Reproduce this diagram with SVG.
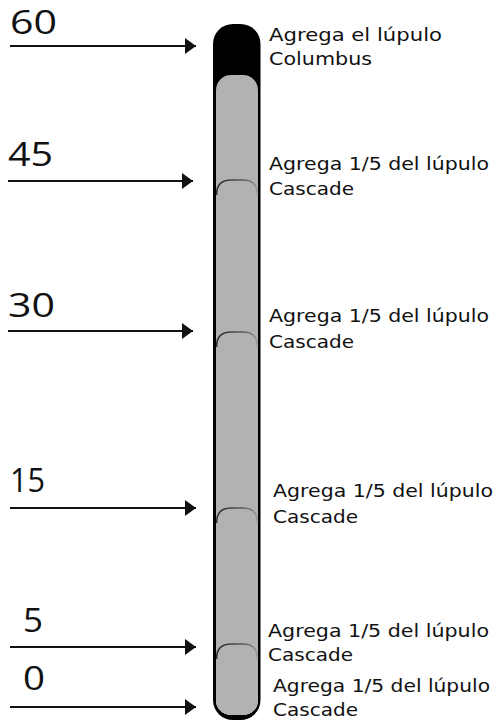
<svg xmlns="http://www.w3.org/2000/svg" width="498" height="722" viewBox="0 0 498 722">
<style>
.num{font-family:"Open Sans","DejaVu Sans",sans-serif;font-size:32px;font-weight:400;fill:#111}
.lbl{font-family:"DejaVu Sans","Liberation Sans",sans-serif;font-size:17px;fill:#111}
.arrow{stroke:#111;stroke-width:2;fill:none}
.seg{fill:#b0b2b4}
.arc{fill:none;stroke:url(#arcg);stroke-width:1.6}
</style>
<defs>
<marker id="ah" markerUnits="userSpaceOnUse" markerWidth="12" markerHeight="16" refX="11" refY="8" orient="auto">
<path d="M0,0 L11,8 L0,16 z" fill="#111"/>
</marker>
<linearGradient id="arcg" x1="0" y1="0" x2="1" y2="0">
<stop offset="0" stop-color="#2a2a2a"/>
<stop offset="0.6" stop-color="#555"/>
<stop offset="1" stop-color="#9a9a9a"/>
</linearGradient>
</defs>
<g id="connectors">
<line class="arrow" x1="10" y1="46" x2="196" y2="46" marker-end="url(#ah)"/>
<line class="arrow" x1="8" y1="181" x2="193" y2="181" marker-end="url(#ah)"/>
<line class="arrow" x1="8" y1="331" x2="193" y2="331" marker-end="url(#ah)"/>
<line class="arrow" x1="10" y1="508" x2="196" y2="508" marker-end="url(#ah)"/>
<line class="arrow" x1="10" y1="647" x2="196" y2="647" marker-end="url(#ah)"/>
<line class="arrow" x1="10" y1="707" x2="196" y2="707" marker-end="url(#ah)"/>
</g>
<g id="bar">
<rect x="213" y="24" width="47.5" height="696" rx="20" fill="#000"/>
<rect class="seg" x="216" y="75" width="42" height="640" rx="15"/>
<g id="seg45"><rect class="seg" x="216" y="180" width="42" height="535" rx="15"/><path class="arc" d="M216.5,195 Q216.5,180 231,180 L243,180 Q257.5,180 257.5,195"/></g>
<g id="seg30"><rect class="seg" x="216" y="332" width="42" height="383" rx="15"/><path class="arc" d="M216.5,347 Q216.5,332 231,332 L243,332 Q257.5,332 257.5,347"/></g>
<g id="seg15"><rect class="seg" x="216" y="508" width="42" height="207" rx="15"/><path class="arc" d="M216.5,523 Q216.5,508 231,508 L243,508 Q257.5,508 257.5,523"/></g>
<g id="seg5"><rect class="seg" x="216" y="644" width="42" height="71" rx="15"/><path class="arc" d="M216.5,659 Q216.5,644 231,644 L243,644 Q257.5,644 257.5,659"/></g>
</g>
<g id="n60"><text class="num" x="10" y="34" textLength="47" lengthAdjust="spacingAndGlyphs">60</text>
<text class="lbl" x="269" y="41" textLength="173" lengthAdjust="spacingAndGlyphs">Agrega el lúpulo</text>
<text class="lbl" x="269" y="65" textLength="103" lengthAdjust="spacingAndGlyphs">Columbus</text></g>
<g id="n45"><text class="num" x="8" y="166" textLength="45" lengthAdjust="spacingAndGlyphs">45</text>
<text class="lbl" x="269" y="170" textLength="220" lengthAdjust="spacingAndGlyphs">Agrega 1/5 del lúpulo</text>
<text class="lbl" x="269" y="195" textLength="85" lengthAdjust="spacingAndGlyphs">Cascade</text></g>
<g id="n30"><text class="num" x="8" y="317" textLength="47" lengthAdjust="spacingAndGlyphs">30</text>
<text class="lbl" x="269" y="322" textLength="220" lengthAdjust="spacingAndGlyphs">Agrega 1/5 del lúpulo</text>
<text class="lbl" x="269" y="348" textLength="85" lengthAdjust="spacingAndGlyphs">Cascade</text></g>
<g id="n15"><text class="num" x="10" y="492" textLength="35" lengthAdjust="spacingAndGlyphs">15</text>
<text class="lbl" x="273" y="497" textLength="220" lengthAdjust="spacingAndGlyphs">Agrega 1/5 del lúpulo</text>
<text class="lbl" x="273" y="523" textLength="85" lengthAdjust="spacingAndGlyphs">Cascade</text></g>
<g id="n5"><text class="num" x="23" y="632" textLength="20" lengthAdjust="spacingAndGlyphs">5</text>
<text class="lbl" x="268" y="637" textLength="221" lengthAdjust="spacingAndGlyphs">Agrega 1/5 del lúpulo</text>
<text class="lbl" x="268" y="661" textLength="85" lengthAdjust="spacingAndGlyphs">Cascade</text></g>
<g id="n0"><text class="num" x="23" y="690" textLength="22" lengthAdjust="spacingAndGlyphs">0</text>
<text class="lbl" x="273" y="692" textLength="217" lengthAdjust="spacingAndGlyphs">Agrega 1/5 del lúpulo</text>
<text class="lbl" x="273" y="716" textLength="85" lengthAdjust="spacingAndGlyphs">Cascade</text></g>
</svg>
